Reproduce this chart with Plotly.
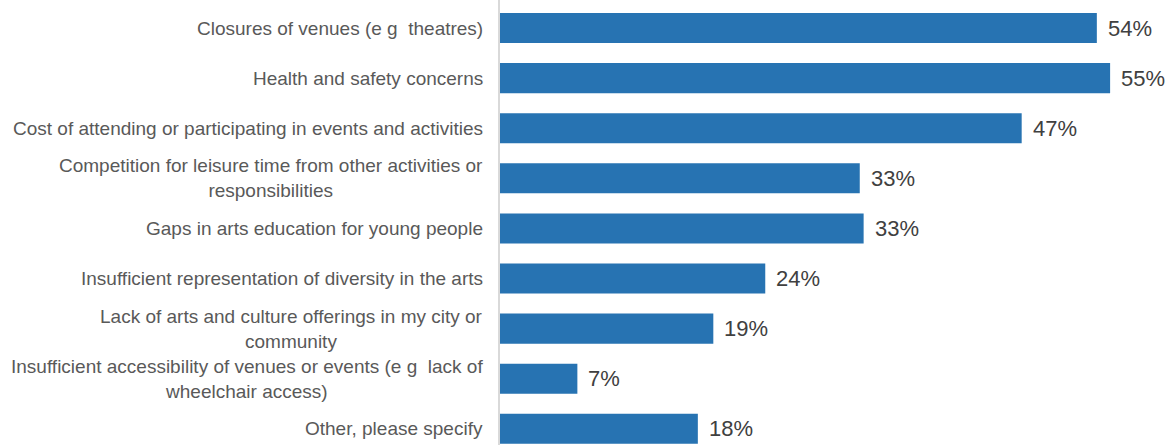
import plotly.graph_objects as go

# Survey responses: barriers to arts and culture participation
categories = [
    "Closures of venues (e g  theatres)",
    "Health and safety concerns",
    "Cost of attending or participating in events and activities",
    "Competition for leisure time from other activities or<br>responsibilities",
    "Gaps in arts education for young people",
    "Insufficient representation of diversity in the arts",
    "Lack of arts and culture offerings in my city or<br>community",
    "Insufficient accessibility of venues or events (e g  lack of<br>wheelchair access)",
    "Other, please specify",
]
shares = [0.540, 0.552, 0.472, 0.3255, 0.329, 0.240, 0.193, 0.070, 0.179]

BAR_COLOR = "#2773B2"
LABEL_COLOR = "#595959"
VALUE_COLOR = "#404040"
FONT = "Liberation Sans, Arial, sans-serif"

idx = list(range(len(categories)))

fig = go.Figure(
    go.Bar(
        x=shares,
        y=idx,
        orientation="h",
        marker=dict(color=BAR_COLOR, line=dict(width=0)),
        width=0.6,
        hoverinfo="skip",
    )
)

# Category labels as annotations so wrapped lines are centred
for i, name in enumerate(categories):
    fig.add_annotation(
        x=0, xref="paper", y=i, yref="y",
        text=name, showarrow=False,
        xanchor="right", yanchor="middle", align="center",
        xshift=-15,
        font=dict(family=FONT, size=19, color=LABEL_COLOR),
    )

# Percentage labels just past the end of each bar
for i, v in enumerate(shares):
    fig.add_annotation(
        x=v, xref="x", y=i, yref="y",
        text=f"{round(v * 100):d}%", showarrow=False,
        xanchor="left", yanchor="middle",
        xshift=9,
        font=dict(family=FONT, size=22, color=VALUE_COLOR),
    )

fig.update_layout(
    width=1172, height=445,
    margin=dict(l=500, r=0, t=0, b=0),
    paper_bgcolor="white", plot_bgcolor="white",
    showlegend=False,
    xaxis=dict(range=[0, 0.608], visible=False, fixedrange=True),
    yaxis=dict(
        range=[8.323, -0.559],
        showticklabels=False, ticks="",
        showgrid=False, zeroline=False,
        showline=True, linecolor="#D9D9D9", linewidth=1.5,
        fixedrange=True,
    ),
)

fig.write_html("out.html")
